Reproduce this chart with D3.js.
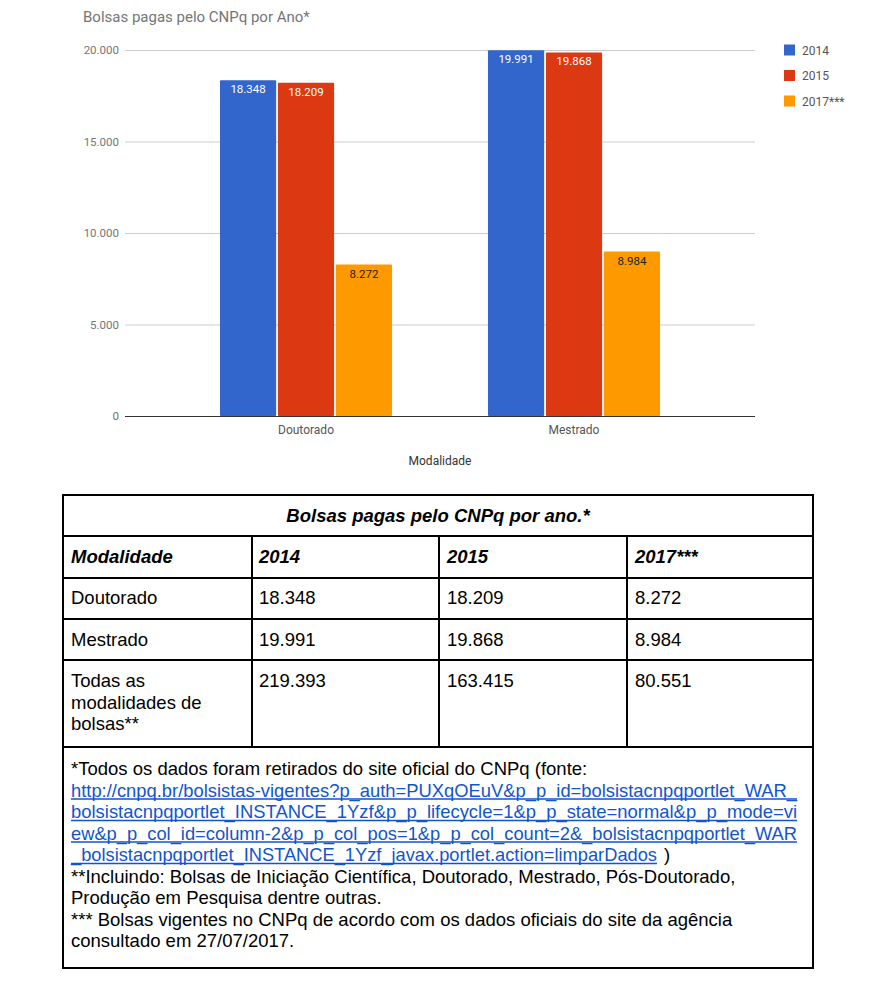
<!DOCTYPE html>
<html>
<head>
<meta charset="utf-8">
<script src="https://cdn.jsdelivr.net/npm/d3@7/dist/d3.min.js"></script>
<style>
  html, body { margin: 0; padding: 0; background: #fff; }
  svg { display: block; }
</style>
</head>
<body>
<svg id="chart" width="876" height="996"></svg>
<script>
// ---------- DATA ----------
const chartTitle = "Bolsas pagas pelo CNPq por Ano*";
const categories = ["Doutorado", "Mestrado"];
const seriesNames = ["2014", "2015", "2017***"];
const values2014 = [18348, 19991];
const values2015 = [18209, 19868];
const values2017 = [8272, 8984];
const yTicks = [0, 5000, 10000, 15000, 20000];
const xAxisTitle = "Modalidade";

const tableTitle = "Bolsas pagas pelo CNPq por ano.*";
const tableHeader = ["Modalidade", "2014", "2015", "2017***"];
const rowLabels = ["Doutorado", "Mestrado", "Todas as\nmodalidades de\nbolsas**"];
const totalsRow = [219393, 163415, 80551];
const footLines = [
  {t: "*Todos os dados foram retirados do site oficial do CNPq (fonte:", link: false},
  {t: "http://cnpq.br/bolsistas-vigentes?p_auth=PUXqOEuV&p_p_id=bolsistacnpqportlet_WAR_", link: true, fit: 726},
  {t: "bolsistacnpqportlet_INSTANCE_1Yzf&p_p_lifecycle=1&p_p_state=normal&p_p_mode=vi", link: true, fit: 726},
  {t: "ew&p_p_col_id=column-2&p_p_col_pos=1&p_p_col_count=2&_bolsistacnpqportlet_WAR", link: true, fit: 726},
  {t: "_bolsistacnpqportlet_INSTANCE_1Yzf_javax.portlet.action=limparDados", link: true, fit: 586, tail: ")"},
  {t: "**Incluindo: Bolsas de Iniciação Científica, Doutorado, Mestrado, Pós-Doutorado,", link: false},
  {t: "Produção em Pesquisa dentre outras.", link: false},
  {t: "*** Bolsas vigentes no CNPq de acordo com os dados oficiais do site da agência", link: false},
  {t: "consultado em 27/07/2017.", link: false}
];

const colors = ["#3366cc", "#dc3912", "#ff9900"];
const labelColors = ["#ffffff", "#ffffff", "#222222"];

// ---------- SETUP ----------
const ptBR = d3.formatLocale({decimal: ",", thousands: ".", grouping: [3], currency: ["R$", ""]});
const fmt = ptBR.format(",d");
const svg = d3.select("#chart");
const series = [values2014, values2015, values2017];

const plotLeft = 125, plotRight = 755, plotTop = 50, plotBottom = 416;

const y = d3.scaleLinear().domain([0, 20000]).range([plotBottom, plotTop]);
const x0 = d3.scaleBand().domain(categories).range([172, 708])
  .paddingInner(0.358).paddingOuter(0.179);
const x1 = d3.scaleBand().domain(seriesNames).range([0, x0.bandwidth()]).paddingInner(0.03);

const font = "Roboto, 'Noto Sans', sans-serif";

// Title
svg.append("text").attr("x", 83).attr("y", 22)
  .attr("font-family", font).attr("font-size", 15).attr("fill", "#757575")
  .text(chartTitle);

// Gridlines + y axis labels
const yAxis = d3.axisLeft(y).tickValues(yTicks).tickFormat(d => fmt(d))
  .tickSize(-(plotRight - plotLeft)).tickPadding(6);
const gy = svg.append("g").attr("transform", `translate(${plotLeft},0)`).call(yAxis);
gy.select(".domain").remove();
gy.selectAll(".tick line").attr("stroke", d => d === 0 ? "#333" : "#cccccc").attr("stroke-width", 1);
gy.selectAll(".tick text").attr("font-family", font).attr("font-size", 11.5).attr("fill", "#757575");

// Bars
const groups = svg.append("g").selectAll("g").data(categories).join("g")
  .attr("transform", d => `translate(${x0(d)},0)`);
groups.selectAll("rect")
  .data((c, ci) => seriesNames.map((s, si) => ({s, si, v: series[si][ci]})))
  .join("rect")
  .attr("x", d => x1(d.s)).attr("width", x1.bandwidth())
  .attr("y", d => y(d.v)).attr("height", d => y(0) - y(d.v))
  .attr("fill", d => colors[d.si]).attr("rx", 1);
groups.selectAll("text.val")
  .data((c, ci) => seriesNames.map((s, si) => ({s, si, v: series[si][ci]})))
  .join("text").attr("class", "val")
  .attr("x", d => x1(d.s) + x1.bandwidth() / 2)
  .attr("y", d => y(d.v) + 13)
  .attr("text-anchor", "middle")
  .attr("font-family", font).attr("font-size", 11.5)
  .attr("fill", d => labelColors[d.si])
  .text(d => fmt(d.v));

// Re-draw baseline on top
svg.append("line").attr("x1", plotLeft).attr("x2", plotRight)
  .attr("y1", y(0) + 0.5).attr("y2", y(0) + 0.5).attr("stroke", "#333");

// X axis labels
const xAxis = d3.axisBottom(x0).tickSize(0).tickPadding(9);
const gx = svg.append("g").attr("transform", `translate(0,${plotBottom})`).call(xAxis);
gx.select(".domain").remove();
gx.selectAll(".tick text").attr("font-family", font).attr("font-size", 12).attr("fill", "#555");

svg.append("text").attr("x", 440).attr("y", 465).attr("text-anchor", "middle")
  .attr("font-family", font).attr("font-size", 12).attr("fill", "#333").text(xAxisTitle);

// Legend
const leg = svg.append("g").selectAll("g").data(seriesNames).join("g")
  .attr("transform", (d, i) => `translate(784,${50 + i * 25.5})`);
leg.append("rect").attr("x", 0).attr("y", -5.5).attr("width", 11).attr("height", 11)
  .attr("fill", (d, i) => colors[i]);
leg.append("text").attr("x", 18).attr("y", 4.5)
  .attr("font-family", font).attr("font-size", 12).attr("fill", "#555").text(d => d);

// ---------- TABLE ----------
const tFont = "'Liberation Sans', Arial, sans-serif";
const tSize = 18.5;
const tL = 63, tR = 813, tTop = 495, tBot = 968;
const rowLines = [536, 578, 619, 660, 747];
const colLines = [252, 439, 627];
const t = svg.append("g");

t.append("rect").attr("x", tL).attr("y", tTop).attr("width", tR - tL).attr("height", tBot - tTop)
  .attr("fill", "none").attr("stroke", "#000").attr("stroke-width", 2);
rowLines.forEach(yy => t.append("line").attr("x1", tL).attr("x2", tR).attr("y1", yy).attr("y2", yy)
  .attr("stroke", "#000").attr("stroke-width", 2));
colLines.forEach(xx => t.append("line").attr("x1", xx).attr("x2", xx).attr("y1", rowLines[0]).attr("y2", rowLines[4])
  .attr("stroke", "#000").attr("stroke-width", 2));

function txt(xx, yy, s, opts = {}) {
  return t.append("text").attr("x", xx).attr("y", yy)
    .attr("font-family", tFont).attr("font-size", tSize)
    .attr("font-weight", opts.bold ? "bold" : "normal")
    .attr("font-style", opts.italic ? "italic" : "normal")
    .attr("text-anchor", opts.anchor || "start")
    .attr("fill", opts.fill || "#000").text(s);
}

txt((tL + tR) / 2, 522, tableTitle, {bold: true, italic: true, anchor: "middle"});
const colX = [71, 259, 447, 635];
tableHeader.forEach((h, i) => txt(colX[i], 563, h, {bold: true, italic: true}));

const tableRows = [
  [rowLabels[0], values2014[0], values2015[0], values2017[0]],
  [rowLabels[1], values2014[1], values2015[1], values2017[1]],
  [rowLabels[2], totalsRow[0], totalsRow[1], totalsRow[2]]
];
const rowBase = [604, 646, 687];
tableRows.forEach((r, ri) => {
  r.forEach((cell, ci) => {
    if (ci === 0) {
      String(cell).split("\n").forEach((ln, li) => txt(colX[0], rowBase[ri] + li * 21.5, ln));
    } else {
      txt(colX[ci], rowBase[ri], fmt(cell));
    }
  });
});

// Footnotes
footLines.forEach((f, i) => {
  const yy = 775 + i * 21.5;
  const el = txt(71, yy, f.t, {fill: f.link ? "#1155cc" : "#000"});
  if (f.link) {
    el.attr("textLength", f.fit).attr("lengthAdjust", "spacingAndGlyphs");
    t.append("line").attr("x1", 71).attr("x2", 71 + f.fit).attr("y1", yy + 2.5).attr("y2", yy + 2.5)
      .attr("stroke", "#1155cc").attr("stroke-width", 1.3);
    if (f.tail) txt(71 + f.fit + 7, yy, f.tail);
  }
});
</script>
</body>
</html>
